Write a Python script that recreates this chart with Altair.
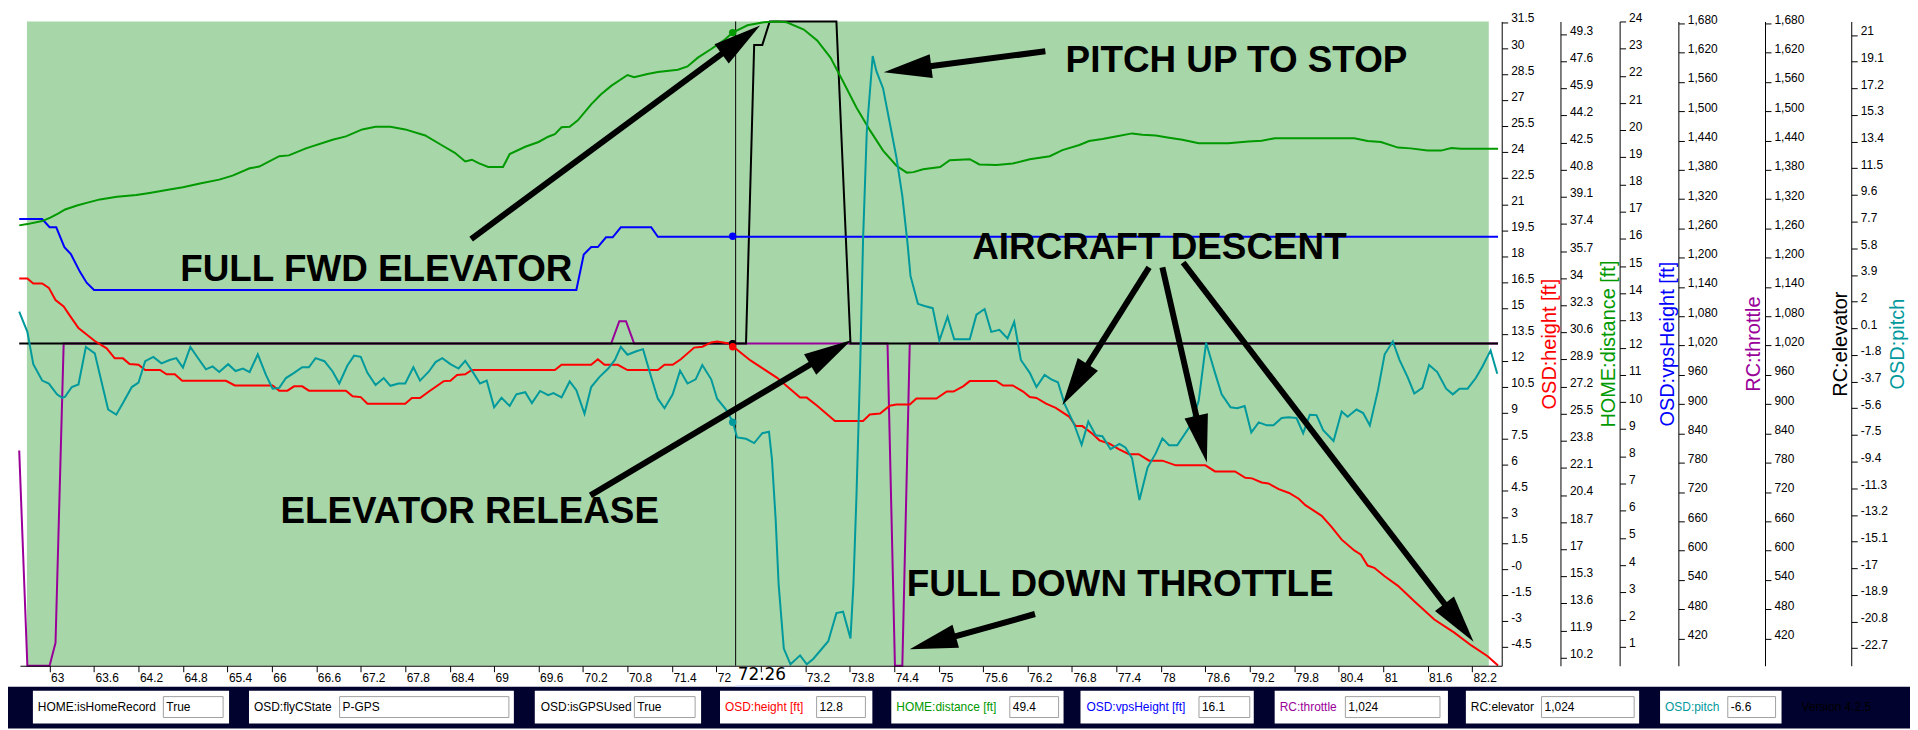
import math
import altair as alt
import pandas as pd

W, H = 1488, 647
T0, T1 = 62.6, 82.6
FONT = "Liberation Sans"

RED, GREEN_C, BLUE, PURPLE, TEAL = "#ff0000", "#009900", "#0000ff", "#990099", "#00999c"
BG_GREEN, NAVY = "#a7d6a8", "#02022e"

# ---------------- axis domains / ticks ----------------
HEIGHT_DOM = [-5.57, 31.53]
DIST_DOM = [9.69, 50.10]
VPS_DOM = [0.30, 24.0]
RC_DOM = [364, 1684]
PITCH_DOM = [-23.95, 21.96]

X_TICKS = [63, 63.6, 64.2, 64.8, 65.4, 66, 66.6, 67.2, 67.8, 68.4, 69, 69.6, 70.2, 70.8, 71.4, 72,
           72.6, 73.2, 73.8, 74.4, 75, 75.6, 76.2, 76.8, 77.4, 78, 78.6, 79.2, 79.8, 80.4, 81, 81.6, 82.2]
HEIGHT_TICKS = [31.5, 30, 28.5, 27, 25.5, 24, 22.5, 21, 19.5, 18, 16.5, 15, 13.5, 12, 10.5, 9, 7.5, 6,
                4.5, 3, 1.5, 0, -1.5, -3, -4.5]
DIST_TICKS = [49.3, 47.6, 45.9, 44.2, 42.5, 40.8, 39.1, 37.4, 35.7, 34, 32.3, 30.6, 28.9, 27.2, 25.5,
              23.8, 22.1, 20.4, 18.7, 17, 15.3, 13.6, 11.9, 10.2]
VPS_TICKS = [24, 23, 22, 21, 20, 19, 18, 17, 16, 15, 14, 13, 12, 11, 10, 9, 8, 7, 6, 5, 4, 3, 2, 1]
RC_TICKS = [1680, 1620, 1560, 1500, 1440, 1380, 1320, 1260, 1200, 1140, 1080, 1020, 960, 900, 840,
            780, 720, 660, 600, 540, 480, 420]
PITCH_TICKS = [21, 19.1, 17.2, 15.3, 13.4, 11.5, 9.6, 7.7, 5.8, 3.9, 2, 0.1, -1.8, -3.7, -5.6, -7.5,
               -9.4, -11.3, -13.2, -15.1, -17, -18.9, -20.8, -22.7]

# ---------------- series (time s, value) ----------------
HEIGHT = [(62.59, 16.73), (62.70, 16.73), (62.78, 16.44), (62.90, 16.44), (62.99, 16.19), (63.08, 15.49),
          (63.19, 15.12), (63.28, 14.55), (63.39, 13.87), (63.50, 13.50), (63.61, 13.13), (63.77, 12.71),
          (63.88, 12.13), (63.99, 12.13), (64.08, 11.81), (64.20, 11.76), (64.29, 11.46), (64.49, 11.46),
          (64.58, 11.21), (64.69, 11.21), (64.79, 10.84), (65.38, 10.84), (65.50, 10.57), (66.01, 10.57),
          (66.10, 10.27), (66.21, 10.27), (66.30, 10.52), (66.41, 10.52), (66.50, 10.27), (67.00, 10.27),
          (67.09, 9.95), (67.20, 9.90), (67.29, 9.52), (67.80, 9.52), (67.89, 9.85), (68.00, 9.85),
          (68.12, 10.22), (68.32, 10.82), (68.41, 10.84), (68.50, 11.17), (68.61, 11.21), (68.70, 11.46),
          (69.82, 11.46), (69.91, 11.76), (70.31, 11.76), (70.40, 12.08), (70.49, 11.76), (70.67, 11.76),
          (70.80, 11.46), (71.21, 11.46), (71.30, 11.76), (71.41, 11.76), (71.52, 12.08), (71.70, 12.75),
          (71.81, 12.80), (71.93, 13.05), (72.01, 13.10), (72.15, 13.00), (72.22, 12.83), (72.28, 12.63),
          (72.46, 12.01), (72.64, 11.51), (72.82, 11.01), (73.00, 10.35), (73.13, 9.87), (73.22, 9.87),
          (73.36, 9.40), (73.60, 8.53), (73.98, 8.53), (74.07, 8.90), (74.21, 8.95), (74.34, 9.40),
          (74.43, 9.47), (74.61, 9.47), (74.70, 9.82), (74.97, 9.82), (75.11, 10.22), (75.20, 10.22),
          (75.33, 10.52), (75.42, 10.82), (75.78, 10.82), (75.87, 10.57), (76.00, 10.57), (76.14, 10.22),
          (76.23, 9.90), (76.32, 9.85), (76.45, 9.52), (76.58, 9.28), (76.76, 8.78), (76.85, 8.23),
          (76.94, 8.23), (77.08, 7.78), (77.17, 7.41), (77.30, 7.23), (77.43, 6.91), (77.57, 6.61),
          (77.70, 6.61), (77.84, 6.24), (78.02, 6.24), (78.20, 5.97), (78.60, 5.97), (78.73, 5.62),
          (79.00, 5.62), (79.14, 5.25), (79.23, 5.22), (79.36, 4.98), (79.45, 4.93), (79.59, 4.60),
          (79.73, 4.38), (79.86, 4.05), (79.95, 3.68), (80.17, 3.06), (80.30, 2.44), (80.44, 1.69),
          (80.61, 1.07), (80.70, 0.82), (80.79, 0.20), (80.88, 0.07), (81.02, -0.42), (81.20, -0.97),
          (81.42, -1.86), (81.69, -2.91), (81.96, -3.66), (82.19, -4.40), (82.41, -5.02), (82.55, -5.55)]

DISTANCE = [(62.59, 37.31), (62.70, 37.39), (62.90, 37.58), (63.01, 37.80), (63.12, 38.07), (63.21, 38.31),
            (63.37, 38.56), (63.50, 38.72), (63.68, 38.94), (63.91, 39.10), (64.17, 39.21), (64.35, 39.34),
            (64.58, 39.53), (64.80, 39.70), (65.03, 39.94), (65.29, 40.18), (65.47, 40.43), (65.70, 40.89),
            (65.83, 41.00), (66.10, 41.65), (66.23, 41.70), (66.46, 42.14), (66.82, 42.68), (67.00, 42.89),
            (67.22, 43.33), (67.40, 43.49), (67.60, 43.49), (67.80, 43.33), (68.07, 42.95), (68.30, 42.32),
            (68.47, 41.86), (68.61, 41.32), (68.70, 41.43), (68.79, 41.21), (68.92, 40.97), (69.12, 40.97),
            (69.21, 41.78), (69.42, 42.24), (69.60, 42.54), (69.73, 42.87), (69.82, 43.03), (69.91, 43.46),
            (70.02, 43.49), (70.13, 43.90), (70.31, 44.90), (70.44, 45.52), (70.58, 46.06), (70.80, 46.74),
            (70.89, 46.60), (71.07, 46.80), (71.21, 46.93), (71.48, 47.07), (71.61, 47.28), (71.75, 47.83),
            (71.93, 48.37), (72.10, 48.91), (72.22, 49.40), (72.42, 49.86), (72.64, 50.05), (72.82, 50.10),
            (72.95, 50.05), (73.18, 49.59), (73.36, 48.91), (73.54, 47.83), (73.71, 46.34), (73.89, 44.71),
            (74.08, 43.22), (74.25, 42.00), (74.43, 41.05), (74.57, 40.62), (74.66, 40.65), (74.79, 40.83),
            (75.02, 40.97), (75.15, 41.40), (75.42, 41.46), (75.55, 41.13), (75.78, 41.10), (76.00, 41.19),
            (76.23, 41.46), (76.50, 41.65), (76.67, 42.03), (76.90, 42.35), (77.03, 42.60), (77.21, 42.73),
            (77.39, 42.89), (77.61, 43.08), (77.75, 43.00), (77.93, 42.95), (78.11, 42.81), (78.29, 42.68),
            (78.51, 42.46), (78.91, 42.46), (79.18, 42.57), (79.36, 42.62), (79.54, 42.78), (80.61, 42.78),
            (80.79, 42.60), (80.97, 42.54), (81.20, 42.19), (81.37, 42.14), (81.60, 42.00), (81.78, 42.00),
            (81.92, 42.16), (82.05, 42.11), (82.55, 42.11)]

VPS = [(62.59, 16.73), (62.90, 16.73), (63.00, 16.43), (63.09, 16.43), (63.20, 15.70), (63.29, 15.43),
       (63.41, 14.79), (63.50, 14.39), (63.60, 14.12), (70.11, 14.12), (70.21, 15.43), (70.31, 15.70),
       (70.40, 15.70), (70.51, 16.06), (70.60, 16.06), (70.71, 16.43), (71.12, 16.43), (71.21, 16.08),
       (82.55, 16.08)]

THROTTLE = [(62.59, 805), (62.70, 364), (63.00, 364), (63.08, 411), (63.19, 1024), (70.58, 1024),
            (70.69, 1070), (70.78, 1070), (70.89, 1024), (74.31, 1024), (74.41, 364), (74.51, 364),
            (74.61, 1024), (82.55, 1024)]

ELEVATOR = [(62.59, 1024), (72.40, 1024), (72.51, 1636), (72.62, 1636), (72.72, 1684), (73.62, 1684),
            (73.81, 1024), (82.55, 1024)]

PITCH = [(62.59, 1.28), (62.70, -0.16), (62.78, -2.46), (62.90, -3.63), (62.99, -3.84), (63.10, -4.61),
         (63.17, -4.86), (63.21, -4.77), (63.30, -4.09), (63.39, -3.91), (63.49, -1.23), (63.61, -1.69),
         (63.70, -3.69), (63.79, -5.69), (63.90, -6.06), (63.99, -5.23), (64.11, -4.09), (64.20, -3.78),
         (64.29, -2.25), (64.40, -1.94), (64.51, -2.40), (64.62, -2.16), (64.71, -2.03), (64.80, -2.71),
         (64.90, -1.23), (65.00, -2.00), (65.11, -2.83), (65.20, -2.62), (65.29, -3.02), (65.41, -2.46),
         (65.51, -2.95), (65.61, -2.77), (65.70, -3.02), (65.81, -1.76), (65.92, -3.23), (66.01, -4.21),
         (66.10, -4.15), (66.19, -3.45), (66.30, -3.08), (66.41, -2.68), (66.50, -2.68), (66.59, -2.03),
         (66.71, -2.25), (66.82, -2.98), (66.91, -3.84), (67.02, -2.56), (67.11, -1.85), (67.20, -1.94),
         (67.29, -3.08), (67.40, -3.94), (67.51, -3.45), (67.60, -4.00), (67.71, -3.84), (67.80, -3.84),
         (67.91, -2.68), (68.00, -3.63), (68.12, -2.98), (68.21, -2.31), (68.30, -2.03), (68.41, -2.46),
         (68.52, -2.77), (68.61, -2.22), (68.70, -2.92), (68.81, -3.84), (68.90, -3.63), (69.00, -5.53),
         (69.10, -4.86), (69.21, -5.44), (69.30, -4.61), (69.42, -4.46), (69.51, -5.23), (69.62, -4.37),
         (69.73, -4.67), (69.80, -4.52), (69.91, -4.83), (70.02, -3.69), (70.11, -4.31), (70.22, -5.99),
         (70.31, -4.09), (70.42, -3.38), (70.54, -2.77), (70.63, -2.16), (70.71, -1.23), (70.80, -1.79),
         (70.92, -1.54), (71.01, -1.39), (71.12, -3.38), (71.21, -4.92), (71.30, -5.60), (71.41, -4.61),
         (71.51, -2.92), (71.61, -3.84), (71.72, -3.54), (71.81, -2.52), (71.93, -3.54), (72.01, -4.92),
         (72.13, -5.69), (72.22, -6.55), (72.28, -7.68), (72.40, -7.78), (72.51, -8.08), (72.62, -7.38),
         (72.71, -7.28), (72.75, -9.22), (72.80, -13.52), (72.84, -18.13), (72.91, -22.73), (73.00, -23.85),
         (73.13, -23.21), (73.22, -23.85), (73.31, -23.45), (73.51, -22.20), (73.62, -20.20), (73.71, -20.10),
         (73.81, -22.00), (73.85, -18.13), (73.89, -11.98), (73.94, -2.77), (73.98, 6.44), (74.03, 14.12),
         (74.11, 19.50), (74.16, 18.42), (74.25, 17.19), (74.34, 14.74), (74.43, 12.28), (74.51, 9.52),
         (74.58, 6.14), (74.62, 3.83), (74.72, 1.84), (74.81, 1.68), (74.92, 1.53), (75.01, -0.77),
         (75.12, 0.92), (75.21, -0.68), (75.42, -0.68), (75.51, 1.07), (75.62, 1.47), (75.71, -0.16),
         (75.82, -0.01), (75.93, -0.62), (76.02, 0.55), (76.11, -2.16), (76.23, -3.08), (76.32, -4.09),
         (76.43, -3.23), (76.52, -3.54), (76.61, -3.75), (76.70, -5.29), (76.83, -6.76), (76.93, -8.21),
         (77.02, -6.55), (77.12, -7.53), (77.21, -7.59), (77.32, -8.51), (77.44, -8.14), (77.52, -8.39),
         (77.61, -9.16), (77.71, -12.14), (77.82, -9.83), (77.93, -8.82), (78.02, -7.75), (78.11, -8.24),
         (78.22, -8.24), (78.40, -6.82), (78.51, -5.07), (78.61, -0.93), (78.73, -3.08), (78.82, -4.61),
         (78.94, -5.53), (79.03, -5.60), (79.13, -5.44), (79.22, -7.32), (79.32, -6.61), (79.43, -6.82),
         (79.52, -6.82), (79.63, -6.30), (79.72, -6.24), (79.83, -6.30), (79.92, -7.38), (80.01, -6.06),
         (80.10, -6.09), (80.19, -7.16), (80.33, -7.93), (80.44, -5.84), (80.52, -6.21), (80.64, -5.69),
         (80.73, -5.94), (80.82, -6.82), (80.93, -4.31), (81.02, -1.76), (81.13, -0.84), (81.22, -2.16),
         (81.33, -3.38), (81.42, -4.55), (81.53, -4.15), (81.62, -2.52), (81.73, -3.02), (81.85, -4.21),
         (81.94, -4.61), (82.03, -4.21), (82.14, -4.21), (82.25, -3.45), (82.34, -2.62), (82.45, -1.48),
         (82.54, -3.14)]

# cursor
CURSOR_T = 72.26
CURSOR_SAMPLE_T = 72.22
CURSOR_LABEL = "72.26"
CUR_HEIGHT, CUR_DIST, CUR_VPS, CUR_THR, CUR_ELEV, CUR_PITCH = 12.8, 49.4, 16.1, 1024, 1024, -6.6

# annotations (time, height-axis value)
NOTES = [("PITCH UP TO STOP", 79.02, 29.24),
         ("FULL FWD ELEVATOR", 67.41, 17.20),
         ("AIRCRAFT DESCENT", 77.98, 18.46),
         ("ELEVATOR RELEASE", 68.67, 3.26),
         ("FULL DOWN THROTTLE", 77.45, -0.92)]
ARROWS = [(68.69, 19.00, 72.59, 31.30),
          (70.30, 4.24, 73.82, 13.18),
          (76.44, 29.81, 74.26, 28.61),
          (76.30, -2.59, 74.61, -4.62),
          (77.84, 17.37, 76.67, 9.45),
          (78.02, 17.37, 78.62, 6.13),
          (78.30, 17.65, 82.22, -4.19)]

# status bar
BAR_LABELS = ["HOME:isHomeRecord", "OSD:flyCState", "OSD:isGPSUsed", "OSD:height [ft]", "HOME:distance [ft]",
              "OSD:vpsHeight [ft]", "RC:throttle", "RC:elevator", "OSD:pitch"]
BAR_VALUES = ["True", "P-GPS", "True", "12.8", "49.4", "16.1", "1,024", "1,024", "-6.6"]
BAR_COLORS = ["black", "black", "black", RED, GREEN_C, BLUE, PURPLE, "black", TEAL]
VERSION = "Version 4.2.5"
# status bar layout (pixels from plot origin)
BOX_X = [(13, 210), (230, 496), (517, 684), (703, 856), (875, 1048), (1065, 1239), (1260, 1434),
         (1452, 1626), (1647, 1769)]
INPUT_X = [(144, 204), (321, 491), (617, 678), (800, 849), (994, 1043), (1184, 1235), (1331, 1426),
           (1528, 1621), (1715, 1763)]
LABEL_X = [18, 235, 523, 708, 880, 1071, 1265, 1457, 1652]

# ---------------- helpers ----------------
xs = alt.Scale(domain=[T0, T1], nice=False, zero=False)
px = alt.Scale(domain=[0, W], nice=False, zero=False)


def yscale(dom):
    return alt.Scale(domain=dom, nice=False, zero=False)


def right_axis(values, title, color, offset, title_x, label_expr):
    return alt.Axis(orient="right", offset=offset, values=values, title=title, titleColor=color,
                    titleFont=FONT, titleFontSize=20, titleFontWeight="normal", titleAngle=270,
                    titleX=title_x, titleY=H / 2, titleAlign="center", titleBaseline="middle",
                    tickSize=6, tickColor="black", tickWidth=1, domainColor="black", domainWidth=1,
                    labelPadding=3, labelAlign="left", labelBaseline="alphabetic", labelFont=FONT,
                    labelFontSize=12, labelColor="black", labelOverlap=False, labelFlush=False,
                    labelBound=False, grid=False, labelExpr=label_expr)


SIGNED = "(datum.value < 0 ? '-' : '') + format(abs(datum.value), '~g')"
HEIGHT_EXPR = "datum.value == 0 ? '-0' : " + SIGNED
THOUSANDS = "format(datum.value, ',d')"

x_axis = alt.Axis(orient="bottom", values=X_TICKS,
                  labelExpr="abs(datum.value - 72.6) < 0.01 ? '' : format(datum.value, '~g')",
                  tickSize=6, tickColor="black", domainColor="black", labelAlign="left",
                  labelBaseline="top", labelPadding=1, labelOffset=1, labelFont=FONT, labelFontSize=12,
                  labelColor="black", labelOverlap=False, labelFlush=False, labelBound=False,
                  grid=False, title=None, zindex=1)


def line_layer(pairs, color, dom, axis=None, xaxis=None, width=2):
    df = pd.DataFrame(pairs, columns=["t", "v"])
    return alt.Chart(df).mark_line(color=color, strokeWidth=width, interpolate="linear").encode(
        x=alt.X("t:Q", scale=xs, axis=xaxis),
        y=alt.Y("v:Q", scale=yscale(dom), axis=axis),
    )


def marker(value, color, dom):
    df = pd.DataFrame({"t": [CURSOR_SAMPLE_T], "v": [value]})
    return alt.Chart(df).mark_circle(color=color, size=55, opacity=1).encode(
        x=alt.X("t:Q", scale=xs, axis=None),
        y=alt.Y("v:Q", scale=yscale(dom), axis=None),
    )


one = pd.DataFrame({"a": [0]})

layers = []

# background plot band
layers.append(alt.Chart(one).mark_rect(color=BG_GREEN).encode(
    x=alt.value(7), x2=alt.value(1475), y=alt.value(0), y2=alt.value(H)))

# cursor line
layers.append(alt.Chart(pd.DataFrame({"t": [CURSOR_T]})).mark_rule(color="black", strokeWidth=1).encode(
    x=alt.X("t:Q", scale=xs, axis=None), y=alt.value(0), y2=alt.value(H)))

# series
layers.append(line_layer(THROTTLE, PURPLE, RC_DOM,
                         right_axis(RC_TICKS, "RC:throttle", PURPLE, 177.4, 75, THOUSANDS)))
layers.append(line_layer(ELEVATOR, "black", RC_DOM,
                         right_axis(RC_TICKS, "RC:elevator", "black", 264.4, 75.5, THOUSANDS)))
layers.append(line_layer(VPS, BLUE, VPS_DOM,
                         right_axis(VPS_TICKS, "OSD:vpsHeight [ft]", BLUE, 118.4, 48.3, SIGNED)))
layers.append(line_layer(DISTANCE, GREEN_C, DIST_DOM,
                         right_axis(DIST_TICKS, "HOME:distance [ft]", GREEN_C, 59, 48.7, SIGNED)))
layers.append(line_layer(HEIGHT, RED, HEIGHT_DOM,
                         right_axis(HEIGHT_TICKS, "OSD:height [ft]", RED, 0, 48.4, HEIGHT_EXPR),
                         xaxis=x_axis))
layers.append(line_layer(PITCH, TEAL, PITCH_DOM,
                         right_axis(PITCH_TICKS, "OSD:pitch", TEAL, 351, 46.5, SIGNED)))

# cursor markers
layers += [marker(CUR_THR, PURPLE, RC_DOM), marker(CUR_DIST, GREEN_C, DIST_DOM),
           marker(CUR_VPS, BLUE, VPS_DOM), marker(CUR_ELEV, "black", RC_DOM),
           marker(CUR_HEIGHT, RED, HEIGHT_DOM), marker(CUR_PITCH, TEAL, PITCH_DOM)]

# arrows (height-axis coordinates)
kx = W / (T1 - T0)
ky = H / (HEIGHT_DOM[1] - HEIGHT_DOM[0])
HEAD = 48
rows = []
for (ta, ha, tb, hb) in ARROWS:
    dx = (tb - ta) * kx
    dy = -(hb - ha) * ky
    ln = math.hypot(dx, dy)
    ux, uy = dx / ln, dy / ln
    back = HEAD * 0.85
    rows.append(dict(t0=ta, h0=ha, t1=tb - back * ux / kx, h1=hb + back * uy / ky,
                     tt=tb, th=hb, ang=math.degrees(math.atan2(dy, dx)) % 360))
arr = pd.DataFrame(rows)
layers.append(alt.Chart(arr).mark_rule(color="black", strokeWidth=6).encode(
    x=alt.X("t0:Q", scale=xs, axis=None), x2="t1:Q",
    y=alt.Y("h0:Q", scale=yscale(HEIGHT_DOM), axis=None), y2="h1:Q"))
layers.append(alt.Chart(arr).mark_point(shape="M0,0L-2,-0.5L-2,0.5Z", size=HEAD * HEAD, filled=True,
                                        color="black", opacity=1, strokeWidth=0).encode(
    x=alt.X("tt:Q", scale=xs, axis=None),
    y=alt.Y("th:Q", scale=yscale(HEIGHT_DOM), axis=None),
    angle=alt.Angle("ang:Q", scale=None)))

notes = pd.DataFrame(NOTES, columns=["txt", "t", "h"])
layers.append(alt.Chart(notes).mark_text(font=FONT, fontSize=37, fontWeight="bold", color="black",
                                         align="center", baseline="middle").encode(
    x=alt.X("t:Q", scale=xs, axis=None),
    y=alt.Y("h:Q", scale=yscale(HEIGHT_DOM), axis=None),
    text="txt:N"))

# cursor value label under the axis
layers.append(alt.Chart(pd.DataFrame({"t": [CURSOR_T], "lab": [CURSOR_LABEL]})).mark_text(
    font="DejaVu Sans", fontSize=17, color="black", align="left", baseline="middle", dx=2).encode(
    x=alt.X("t:Q", scale=xs, axis=None), y=alt.value(656), text="lab:N"))

# ---------------- status bar ----------------
layers.append(alt.Chart(one).mark_rect(color=NAVY).encode(
    x=alt.value(-12), x2=alt.value(1898), y=alt.value(668), y2=alt.value(H + 63)))
layers.append(alt.Chart(pd.DataFrame({"t": [CURSOR_T], "t2": [73.19]})).mark_rule(
    color="#c4ccf0", strokeWidth=1.5).encode(
    x=alt.X("t:Q", scale=xs, axis=None), x2="t2:Q", y=alt.value(667.5)))

bar = pd.DataFrame({
    "label": BAR_LABELS, "value": BAR_VALUES, "color": BAR_COLORS,
    "bx0": [b[0] for b in BOX_X], "bx1": [b[1] for b in BOX_X],
    "ix0": [b[0] for b in INPUT_X], "ix1": [b[1] for b in INPUT_X],
    "lx": LABEL_X, "vx": [b[0] + 3 for b in INPUT_X],
})
layers.append(alt.Chart(bar).mark_rect(color="white").encode(
    x=alt.X("bx0:Q", scale=px, axis=None), x2="bx1:Q", y=alt.value(672), y2=alt.value(705)))
layers.append(alt.Chart(bar).mark_rect(fill="white", stroke="#a0a0a0", strokeWidth=1).encode(
    x=alt.X("ix0:Q", scale=px, axis=None), x2="ix1:Q", y=alt.value(678), y2=alt.value(699)))
layers.append(alt.Chart(bar).mark_text(font=FONT, fontSize=12, align="left", baseline="middle").encode(
    x=alt.X("lx:Q", scale=px, axis=None), y=alt.value(688.5), text="label:N",
    color=alt.Color("color:N", scale=None)))
layers.append(alt.Chart(bar).mark_text(font=FONT, fontSize=12, align="left", baseline="middle",
                                       color="black").encode(
    x=alt.X("vx:Q", scale=px, axis=None), y=alt.value(688.5), text="value:N"))
layers.append(alt.Chart(pd.DataFrame({"v": [VERSION]})).mark_text(
    font=FONT, fontSize=12, align="left", baseline="middle", color="#000000").encode(
    x=alt.value(1789), y=alt.value(688.5), text="v:N"))

chart = alt.layer(*layers).resolve_scale(x="independent", y="independent").properties(
    width=W, height=H,
    padding={"left": 12, "top": 12, "right": 410, "bottom": 63},
    autosize=alt.AutoSizeParams(type="none"),
    background="white",
).configure_view(strokeWidth=0)

chart.save("out.html", embed_options={"renderer": "svg", "actions": False})
